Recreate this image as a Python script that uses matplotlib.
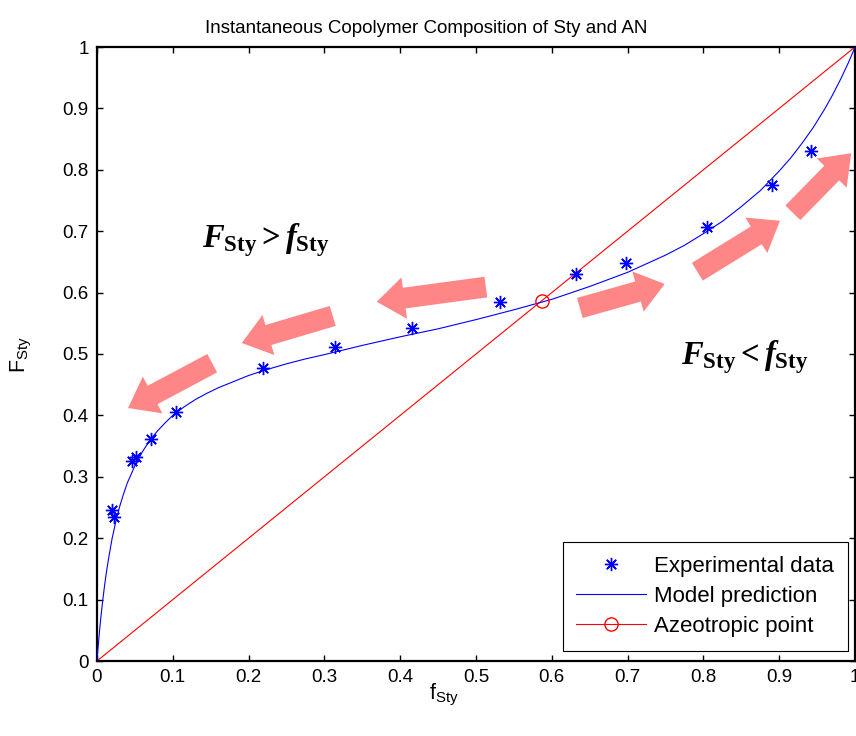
import matplotlib
matplotlib.use("Agg")
import matplotlib.pyplot as plt
from matplotlib.lines import Line2D

# ---------------- data ----------------
# experimental copolymer composition (feed fraction f, copolymer fraction F)
exp_f = [0.020, 0.022, 0.046, 0.052, 0.071, 0.104, 0.219, 0.314, 0.415,
         0.532, 0.632, 0.698, 0.805, 0.891, 0.942]
exp_F = [0.246, 0.235, 0.325, 0.332, 0.361, 0.406, 0.477, 0.512, 0.543,
         0.585, 0.630, 0.649, 0.707, 0.775, 0.831]

# model prediction curve
model_f = [0.0, 0.001, 0.002, 0.0035, 0.005, 0.0075, 0.01, 0.012, 0.015, 0.02,
           0.025, 0.03, 0.035, 0.04, 0.05, 0.06, 0.07, 0.08, 0.09, 0.10,
           0.115, 0.13, 0.145, 0.16, 0.18, 0.20, 0.225, 0.25, 0.275, 0.30,
           0.35, 0.40, 0.45, 0.50, 0.55, 0.60, 0.65, 0.70, 0.75, 0.775,
           0.80, 0.825, 0.85, 0.875, 0.90, 0.915, 0.93, 0.945, 0.96, 0.97,
           0.98, 0.99, 0.995, 1.0]
model_F = [0.0, 0.016, 0.030, 0.051, 0.070, 0.098, 0.123, 0.141, 0.165, 0.200,
           0.228, 0.252, 0.272, 0.290, 0.318, 0.341, 0.360, 0.375, 0.388, 0.400,
           0.414, 0.426, 0.436, 0.445, 0.455, 0.465, 0.475, 0.484, 0.492, 0.499,
           0.514, 0.528, 0.541, 0.556, 0.572, 0.589, 0.610, 0.633, 0.661, 0.677,
           0.696, 0.716, 0.740, 0.766, 0.798, 0.819, 0.843, 0.869, 0.899, 0.921,
           0.945, 0.971, 0.985, 1.0]

# F = f reference line and azeotropic point
diag_f = [0.0, 1.0]
diag_F = [0.0, 1.0]
azeo_f = [0.587]
azeo_F = [0.587]

# direction arrows (tail -> tip)
arrow_tails = [(0.918, 0.730), (0.792, 0.634), (0.637, 0.575),
               (0.513, 0.609), (0.311, 0.562), (0.152, 0.485)]
arrow_tips = [(0.995, 0.827), (0.901, 0.717), (0.749, 0.614),
              (0.369, 0.585), (0.191, 0.518), (0.041, 0.412)]

tick_vals = [0, 0.1, 0.2, 0.3, 0.4, 0.5, 0.6, 0.7, 0.8, 0.9, 1]
tick_labels = ["0", "0.1", "0.2", "0.3", "0.4", "0.5", "0.6", "0.7", "0.8", "0.9", "1"]

# ---------------- style ----------------
SANS = "Liberation Sans"
plt.rcParams["font.family"] = [SANS, "DejaVu Sans"]
plt.rcParams["mathtext.fontset"] = "custom"
plt.rcParams["mathtext.rm"] = "Liberation Serif:bold"
plt.rcParams["mathtext.bf"] = "Liberation Serif:bold"
plt.rcParams["mathtext.it"] = "Liberation Serif:italic:bold"
plt.rcParams["mathtext.sf"] = SANS

BLUE = "#0000ff"
RED = "#ff0000"
ARROW = "#ff8686"

fig = plt.figure(figsize=(8.56, 7.36), dpi=100)
ax = fig.add_axes([97 / 856, 75 / 736, 758 / 856, 614 / 736])

# arrows behind the data
for (x0, y0), (x1, y1) in zip(arrow_tails, arrow_tips):
    ax.annotate("", xy=(x1, y1), xytext=(x0, y0),
                arrowprops=dict(arrowstyle="simple,head_length=2.0,head_width=3.0,tail_width=1.5",
                                mutation_scale=10, fc=ARROW, ec="none",
                                shrinkA=0, shrinkB=0),
                zorder=1)

ax.plot(diag_f, diag_F, color=RED, lw=0.8, zorder=2)
model_line, = ax.plot(model_f, model_F, color=BLUE, lw=0.8, zorder=3)
exp_line, = ax.plot(exp_f, exp_F, linestyle="none", marker=(8, 2, 0),
                    markersize=9.5, markeredgewidth=1.0, color=BLUE, zorder=4)
ax.plot(azeo_f, azeo_F, linestyle="none", marker="o", markersize=9.5,
        markerfacecolor="none", markeredgecolor=RED, markeredgewidth=1.0, zorder=5)

azeo_handle = Line2D([], [], color=RED, lw=0.8, marker="o", markersize=9.5,
                     markerfacecolor="none", markeredgecolor=RED)

leg = ax.legend([exp_line, model_line, azeo_handle],
                ["Experimental data", "Model prediction", "Azeotropic point"],
                loc="lower right", bbox_to_anchor=(0.9908, 0.0163),
                borderaxespad=0, fontsize=16, numpoints=1,
                handlelength=3.15, handletextpad=0.36, labelspacing=0.42,
                borderpad=0.62, fancybox=False, framealpha=1,
                edgecolor="black")
leg.get_frame().set_linewidth(0.8)

# region annotations
ax.text(0.222, 0.686, r"$F_{\mathrm{Sty}} > f_{\mathrm{Sty}}$", fontsize=23.5,
        ha="center", va="center")
ax.text(0.855, 0.495, r"$F_{\mathrm{Sty}} < f_{\mathrm{Sty}}$", fontsize=23.5,
        ha="center", va="center")

ax.set_xlim(0, 1)
ax.set_ylim(0, 1)
ax.set_xticks(tick_vals)
ax.set_xticklabels(tick_labels)
ax.set_yticks(tick_vals)
ax.set_yticklabels(tick_labels)
ax.tick_params(direction="in", length=4, width=1, top=True, right=True,
               labelsize=13.5, pad=6)

for sp in ax.spines.values():
    sp.set_linewidth(1.6)

ax.set_title("Instantaneous Copolymer Composition of Sty and AN",
             fontsize=13.5, x=0.434, pad=10)

ax.set_xlabel(r"$\mathsf{f}_{\mathsf{Sty}}$", fontsize=15.5)
ax.xaxis.set_label_coords(0.458, -0.034)
ax.set_ylabel(r"$\mathsf{F}_{\mathsf{Sty}}$", fontsize=15.5)
ax.yaxis.set_label_coords(-0.085, 0.5)

fig.savefig("out.png", dpi=100)
